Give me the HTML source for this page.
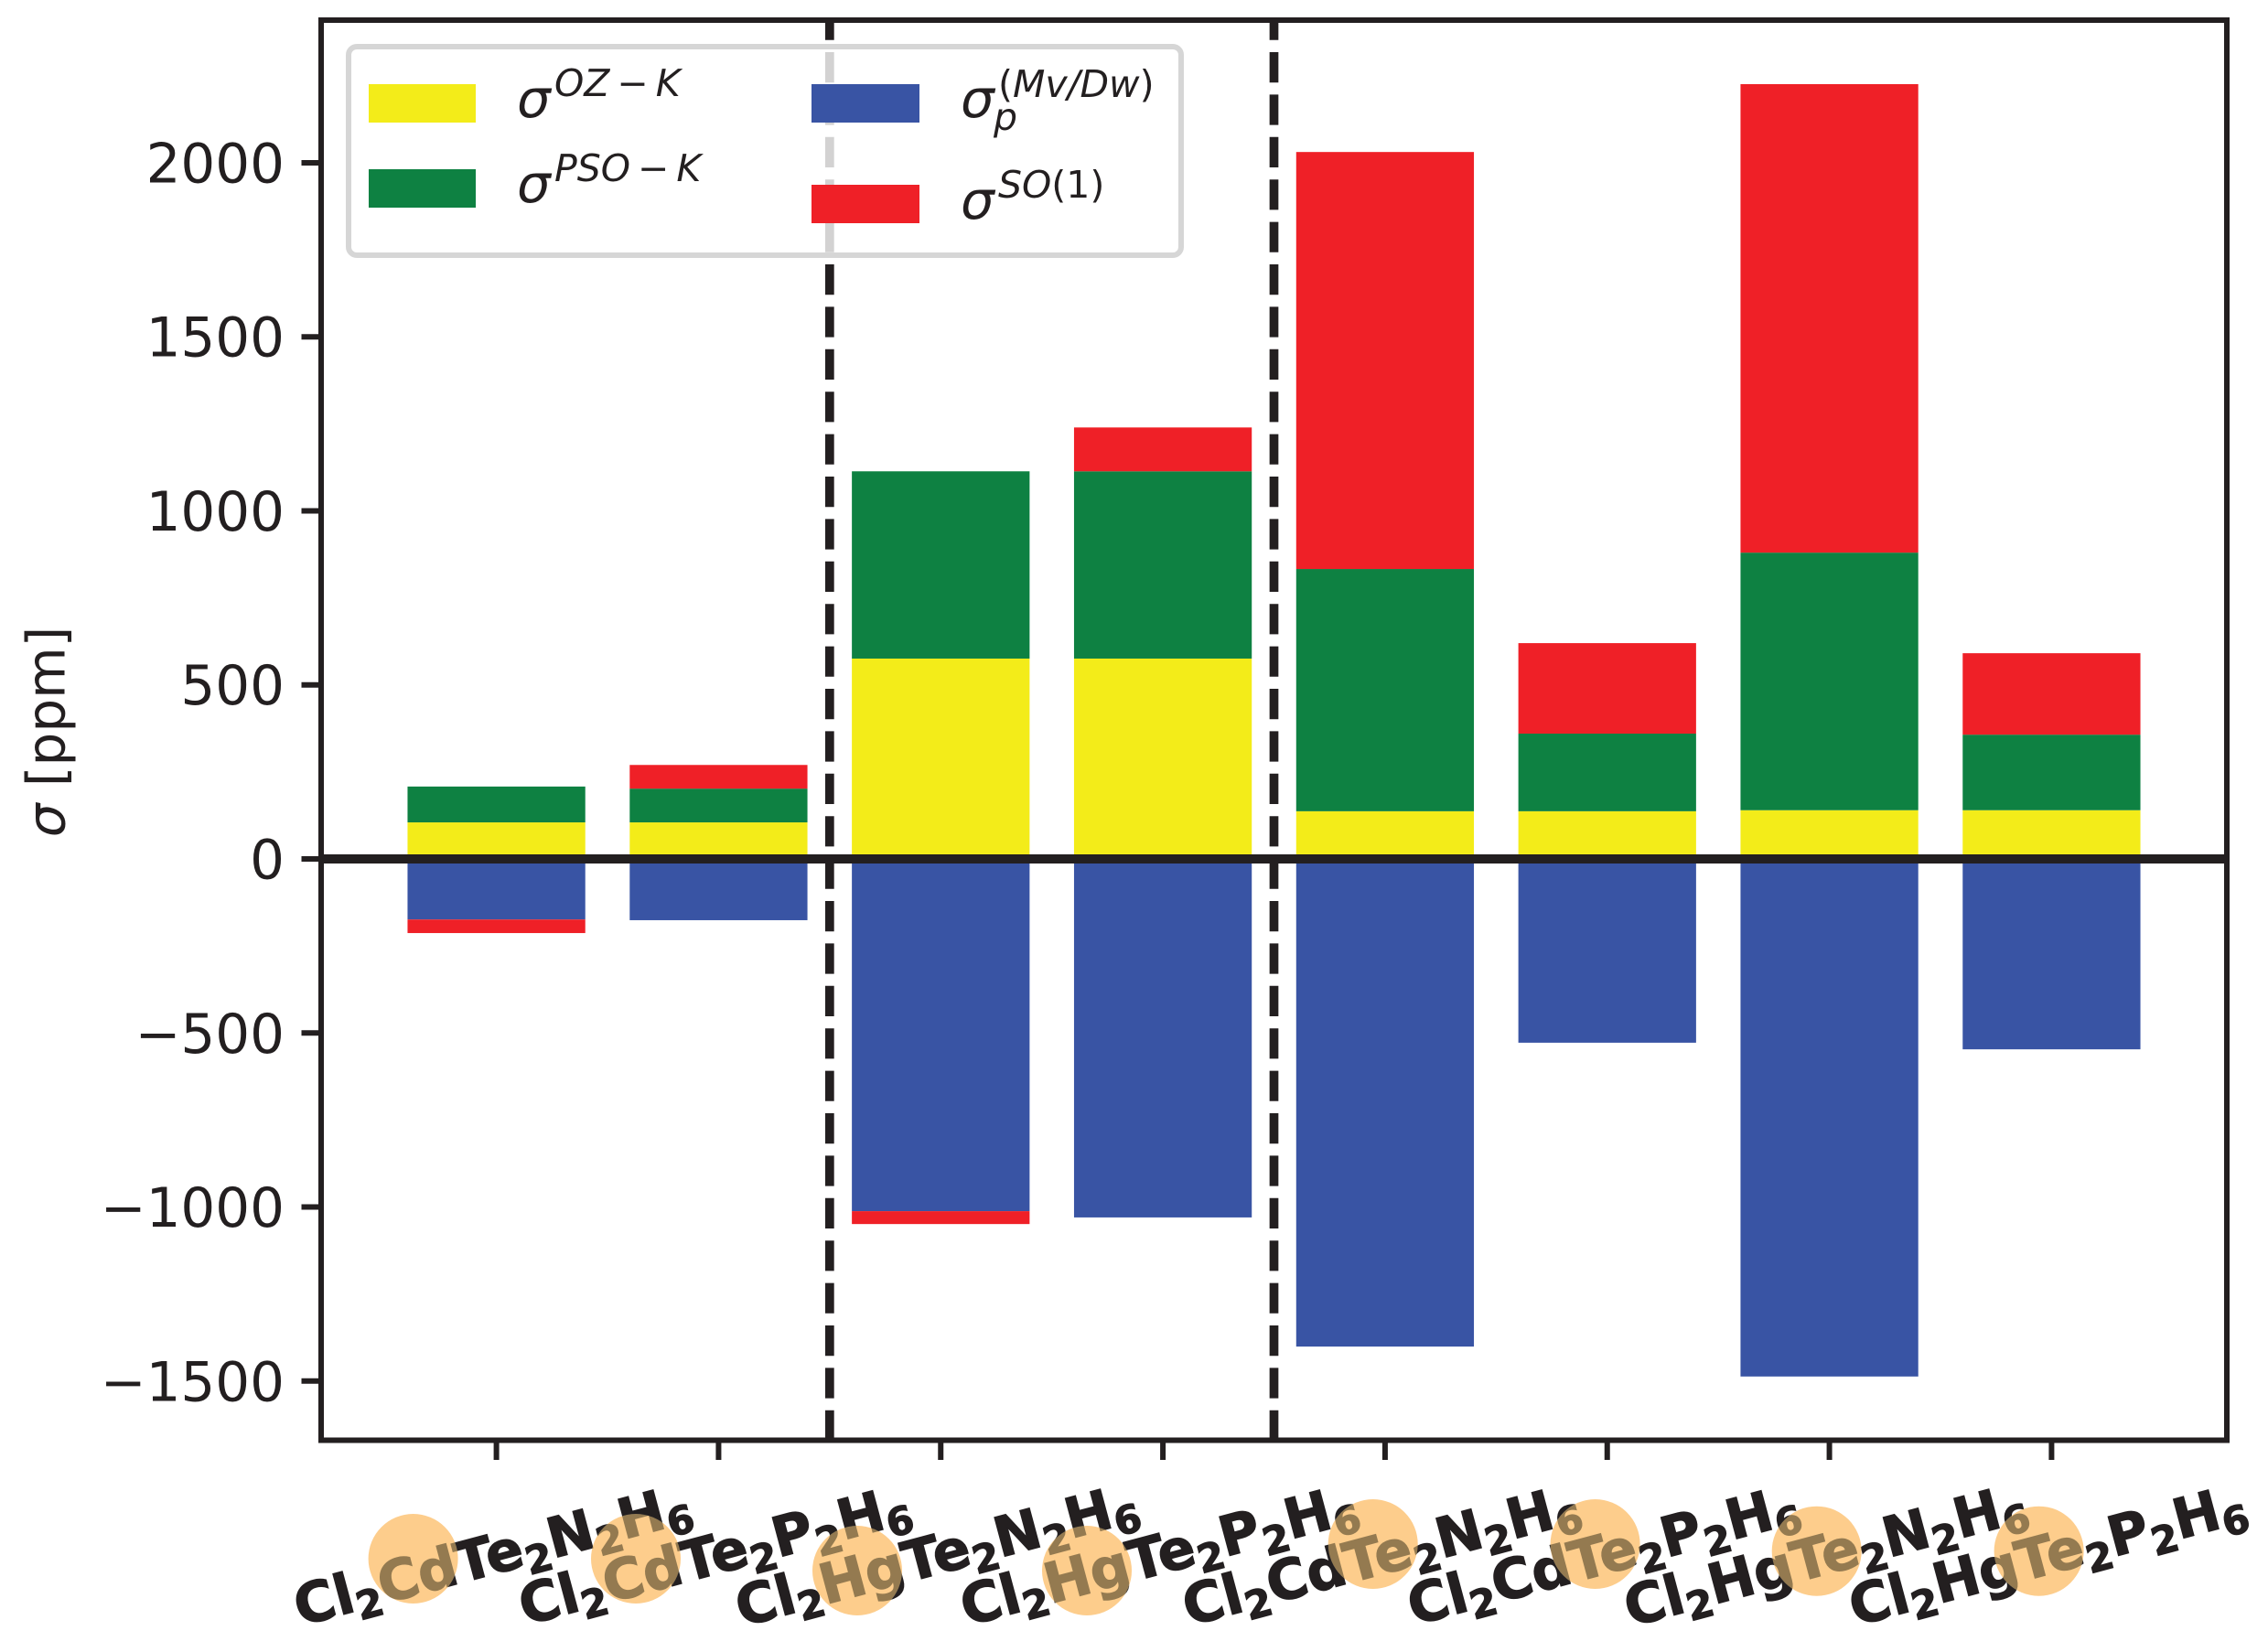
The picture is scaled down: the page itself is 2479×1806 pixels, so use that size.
<!DOCTYPE html>
<html lang="en">
<head>
<meta charset="utf-8">
<title>Stacked shielding contributions chart</title>
<style>
html,body{margin:0;padding:0;background:#fff;}
svg{display:block;}
text{font-family:"DejaVu Sans",sans-serif;fill:#231f20;}
.leg{font-size:58px;font-style:italic;}
.sup{font-size:41px;font-style:italic;}
.up{font-style:normal;}
</style>
</head>
<body>
<svg id="chart" xmlns="http://www.w3.org/2000/svg" width="2479" height="1806" viewBox="0 0 2479 1806">
  <rect x="0" y="0" width="2479" height="1806" fill="#ffffff"/>
  <g id="bars"></g>
  <g id="refs"></g>
  <rect x="351" y="22" width="2083" height="1552.5" fill="none" stroke="#231f20" stroke-width="6"/>
  <g id="ticks"></g>
  <text transform="translate(70.5,800) rotate(-90)" text-anchor="middle" font-size="58"><tspan font-style="italic">σ</tspan> [ppm]</text>

  <g>
    <rect x="381" y="51" width="910" height="228" rx="9" ry="9" fill="#ffffff" stroke="#cccccc" stroke-width="6" opacity="0.8"/>
    <rect x="403" y="92" width="117" height="42" fill="#f3ec19"/>
    <rect x="403" y="185" width="117" height="42" fill="#0e8142"/>
    <rect x="887" y="92" width="118" height="42" fill="#3954a4"/>
    <rect x="887" y="202" width="118" height="42" fill="#ef2027"/>
    <g>
      <text class="leg" x="565" y="128">σ</text>
      <text class="sup" x="606" y="105">OZ<tspan dx="8">−</tspan><tspan dx="8">K</tspan></text>
    </g>
    <g>
      <text class="leg" x="565" y="221">σ</text>
      <text class="sup" x="606" y="198">PSO<tspan dx="8">−</tspan><tspan dx="8">K</tspan></text>
    </g>
    <g>
      <text class="leg" x="1050" y="128">σ</text>
      <text class="sup" x="1091" y="106"><tspan class="up">(</tspan>Mv/Dw<tspan class="up">)</tspan></text>
      <text class="sup" x="1086" y="142">p</text>
    </g>
    <g>
      <text class="leg" x="1050" y="239">σ</text>
      <text class="sup" x="1091" y="216">SO<tspan class="up">(1)</tspan></text>
    </g>
  </g>

  <g id="xlabels"></g>

  <g fill="none">
    <g><circle cx="451.6" cy="1704" r="49" fill="#848a82" style="mix-blend-mode:screen"/><circle cx="451.6" cy="1704" r="49" fill="#fdcd8c" style="mix-blend-mode:multiply"/></g>
    <g><circle cx="695" cy="1704" r="49" fill="#848a82" style="mix-blend-mode:screen"/><circle cx="695" cy="1704" r="49" fill="#fdcd8c" style="mix-blend-mode:multiply"/></g>
    <g><circle cx="937" cy="1717" r="49" fill="#848a82" style="mix-blend-mode:screen"/><circle cx="937" cy="1717" r="49" fill="#fdcd8c" style="mix-blend-mode:multiply"/></g>
    <g><circle cx="1188" cy="1717" r="49" fill="#848a82" style="mix-blend-mode:screen"/><circle cx="1188" cy="1717" r="49" fill="#fdcd8c" style="mix-blend-mode:multiply"/></g>
    <g><circle cx="1500.7" cy="1688" r="49" fill="#848a82" style="mix-blend-mode:screen"/><circle cx="1500.7" cy="1688" r="49" fill="#fdcd8c" style="mix-blend-mode:multiply"/></g>
    <g><circle cx="1743.6" cy="1688" r="49" fill="#848a82" style="mix-blend-mode:screen"/><circle cx="1743.6" cy="1688" r="49" fill="#fdcd8c" style="mix-blend-mode:multiply"/></g>
    <g><circle cx="1985.7" cy="1695.7" r="49" fill="#848a82" style="mix-blend-mode:screen"/><circle cx="1985.7" cy="1695.7" r="49" fill="#fdcd8c" style="mix-blend-mode:multiply"/></g>
    <g><circle cx="2228.6" cy="1695.7" r="49" fill="#848a82" style="mix-blend-mode:screen"/><circle cx="2228.6" cy="1695.7" r="49" fill="#fdcd8c" style="mix-blend-mode:multiply"/></g>
  </g>
</svg>
<script>
const categories = ["Cl2CdTe2N2H6","Cl2CdTe2P2H6","Cl2HgTe2N2H6","Cl2HgTe2P2H6","Cl2CdTe2N2H6","Cl2CdTe2P2H6","Cl2HgTe2N2H6","Cl2HgTe2P2H6"];
const ozK  = [105, 105, 575.6, 575.6, 137, 137, 140, 140];
const psoK = [103, 97, 538, 538, 696, 223, 740, 217];
const mvDw = [-174, -176, -1012, -1030, -1401, -528, -1487, -547];
const so1  = [-39, 68, -37, 126, 1198, 260, 1346, 234];
const yTickValues = [-1500, -1000, -500, 0, 500, 1000, 1500, 2000];
const yTickLabels = ["−1500", "−1000", "−500", "0", "500", "1000", "1500", "2000"];
const separators = [1.5, 3.5];

const NS = "http://www.w3.org/2000/svg";
const X_MIN = -0.789, X_MAX = 7.789, Y_MIN = -1670, Y_MAX = 2410;
const PX_LEFT = 351, PX_RIGHT = 2434, PX_BOTTOM = 1574.5, PX_TOP = 22;
function xScale(v) { return PX_LEFT + (v - X_MIN) / (X_MAX - X_MIN) * (PX_RIGHT - PX_LEFT); }
function yScale(v) { return 939 - v * (PX_BOTTOM - PX_TOP) / (Y_MAX - Y_MIN); }
function make(tag, attrs, parent) {
  const el = document.createElementNS(NS, tag);
  for (const k in attrs) el.setAttribute(k, attrs[k]);
  parent.appendChild(el);
  return el;
}

const series = [
  { key: "oz-k", values: ozK, color: "#f3ec19" },
  { key: "pso-k", values: psoK, color: "#0e8142" },
  { key: "mv-dw", values: mvDw, color: "#3954a4" },
  { key: "so1", values: so1, color: "#ef2027" }
];
const barsG = document.getElementById("bars");
const posStack = categories.map(function () { return 0; });
const negStack = categories.map(function () { return 0; });
const BAR_WIDTH = 0.8;
series.forEach(function (s) {
  s.values.forEach(function (v, i) {
    const stack = v >= 0 ? posStack : negStack;
    const y0 = stack[i];
    const y1 = y0 + v;
    stack[i] = y1;
    const rect = make("rect", {
      x: xScale(i - BAR_WIDTH / 2),
      y: Math.min(yScale(y0), yScale(y1)),
      width: xScale(i + BAR_WIDTH / 2) - xScale(i - BAR_WIDTH / 2),
      height: Math.abs(yScale(y1) - yScale(y0)),
      fill: s.color
    }, barsG);
    
    
  });
});

const refs = document.getElementById("refs");
const zero = make("line", { x1: PX_LEFT, x2: PX_RIGHT, y1: yScale(0), y2: yScale(0), stroke: "#231f20", "stroke-width": 10 }, refs);


separators.forEach(function (s) {
  const l = make("line", { x1: xScale(s), x2: xScale(s), y1: 1575, y2: PX_TOP, stroke: "#231f20", "stroke-width": 9.7, "stroke-dasharray": "33.2 13.2" }, refs);
  
  
});

const ticks = document.getElementById("ticks");
yTickValues.forEach(function (v, i) {
  const t = make("line", { x1: 329.5, x2: PX_LEFT, y1: yScale(v), y2: yScale(v), stroke: "#231f20", "stroke-width": 6 }, ticks);
  
  
  const lab = make("text", { x: 311, y: yScale(v) + 21.5, "text-anchor": "end", "font-size": 59.5 }, ticks);
  
  
  lab.textContent = yTickLabels[i];
});
categories.forEach(function (c, i) {
  const t = make("line", { x1: xScale(i), x2: xScale(i), y1: PX_BOTTOM, y2: 1596, stroke: "#231f20", "stroke-width": 6 }, ticks);
  
  
});

const xlabels = document.getElementById("xlabels");
categories.forEach(function (c, i) {
  const text = make("text", {
    transform: "translate(" + (xScale(i) + 1) + ",1720) rotate(-15)",
    "text-anchor": "middle",
    "font-size": 60.5,
    "font-weight": "bold",
    stroke: "#231f20",
    "stroke-width": 1.2
  }, xlabels);
  
  
  const parts = c.match(/[A-Za-z]+|[0-9]+/g);
  let lowered = false;
  parts.forEach(function (p) {
    const isSub = /[0-9]/.test(p);
    const ts = document.createElementNS(NS, "tspan");
    if (isSub) {
      ts.setAttribute("font-size", "42.4");
      ts.setAttribute("dy", "11");
      lowered = true;
    } else if (lowered) {
      ts.setAttribute("dy", "-11");
      lowered = false;
    }
    ts.textContent = p;
    text.appendChild(ts);
  });
});
</script>
</body>
</html>
